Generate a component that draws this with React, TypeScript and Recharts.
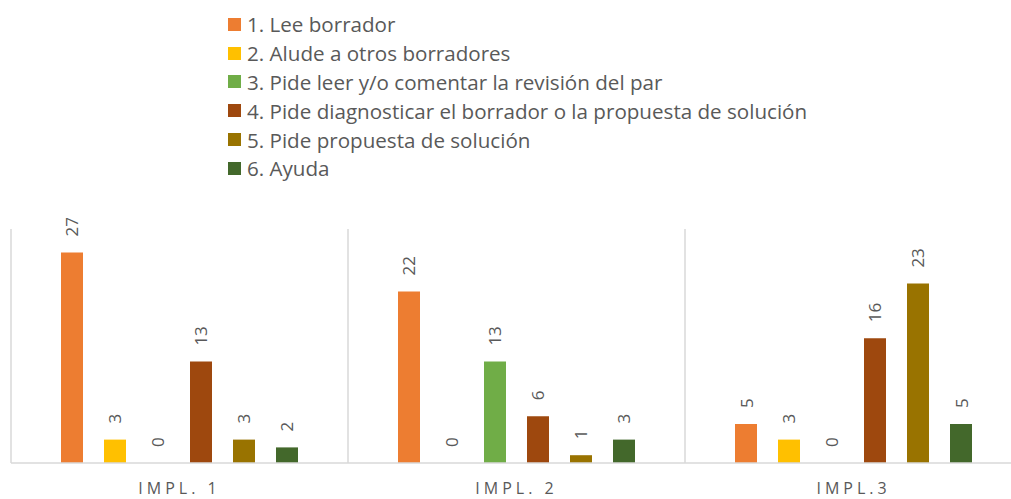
import React from 'react';
import { BarChart, Bar, XAxis, YAxis, CartesianGrid, Legend, LabelList } from 'recharts';

const categories = ['IMPL. 1', 'IMPL. 2', 'IMPL.3'];
const seriesNames = [
  '1. Lee borrador',
  '2. Alude a otros borradores',
  '3. Pide leer y/o comentar la revisión del par',
  '4. Pide diagnosticar el borrador o la propuesta de solución',
  '5. Pide propuesta de solución',
  '6. Ayuda',
];
const seriesColors = ['#ED7D31', '#FFC000', '#70AD47', '#9E480E', '#997300', '#43682B'];

const leeBorrador = [27, 22, 5];
const aludeOtros = [3, 0, 3];
const pideLeer = [0, 13, 0];
const pideDiagnosticar = [13, 6, 16];
const pidePropuesta = [3, 1, 23];
const ayuda = [2, 3, 5];

const seriesValues = [leeBorrador, aludeOtros, pideLeer, pideDiagnosticar, pidePropuesta, ayuda];

const data = categories.map((name, i) => {
  const row: Record<string, string | number> = { name };
  seriesValues.forEach((vals, s) => {
    row[`s${s}`] = vals[i];
  });
  return row;
});

const TEXT = '#595959';

const renderLabel = (props: any) => {
  const { x, y, width, value } = props;
  const cx = Number(x) + Number(width) / 2;
  const ty = Number(y) - 16;
  return (
    <text
      x={cx}
      y={ty}
      transform={`rotate(-90 ${cx} ${ty})`}
      textAnchor="start"
      dominantBaseline="central"
      fill={TEXT}
      fontSize={17}
    >
      {value}
    </text>
  );
};

const renderLegend = (props: any) => {
  const { payload } = props;
  return (
    <div style={{ margin: 0, padding: 0 }}>
      {(payload || []).map((entry: any, i: number) => (
        <div
          key={i}
          style={{ display: 'flex', alignItems: 'center', height: 28.8, whiteSpace: 'nowrap' }}
        >
          <span
            style={{
              display: 'inline-block',
              width: 13,
              height: 13,
              background: entry.color,
              marginRight: 6,
            }}
          />
          <span style={{ color: TEXT, fontSize: 20.6 }}>{entry.value}</span>
        </div>
      ))}
    </div>
  );
};

// vertical separators at the category band boundaries, derived from the plot offset
const boundaryGenerator = (props: any) => {
  const { offset } = props;
  const n = categories.length;
  return Array.from({ length: n + 1 }, (_, i) => offset.left + (offset.width * i) / n);
};

// keep zero-valued bars in the layout so their "0" label is drawn
const zeroKeep = (value: any) => (Number(value) === 0 ? 0.01 : 0);

export default function App() {
  return (
    <div
      style={{
        position: 'absolute',
        left: 0,
        top: 0,
        width: 1011,
        height: 499,
        overflow: 'hidden',
        background: '#fff',
        fontFamily: '"Open Sans", sans-serif',
      }}
    >
      <BarChart
        width={1030}
        height={499}
        data={data}
        margin={{ top: 229, right: 8, bottom: 0, left: 11 }}
        barSize={22}
        barGap={21}
      >
        <CartesianGrid
          horizontal={false}
          stroke="#d9d9d9"
          strokeWidth={1.5}
          verticalCoordinatesGenerator={boundaryGenerator}
        />
        <XAxis
          dataKey="name"
          height={36}
          axisLine={{ stroke: '#d9d9d9', strokeWidth: 1.5 }}
          tickLine={false}
          tickSize={0}
          tickMargin={20}
          tick={{ fill: TEXT, fontSize: 16, letterSpacing: 4 }}
        />
        <YAxis hide domain={[0, 30]} />
        <Legend
          layout="vertical"
          align="center"
          verticalAlign="middle"
          content={renderLegend}
          wrapperStyle={{ position: 'absolute', top: 10, left: 228, width: 'auto' }}
        />
        {seriesNames.map((n, s) => (
          <Bar
            key={n}
            dataKey={`s${s}`}
            name={n}
            fill={seriesColors[s]}
            minPointSize={zeroKeep}
            isAnimationActive={false}
          >
            <LabelList dataKey={`s${s}`} content={renderLabel} />
          </Bar>
        ))}
      </BarChart>
    </div>
  );
}
